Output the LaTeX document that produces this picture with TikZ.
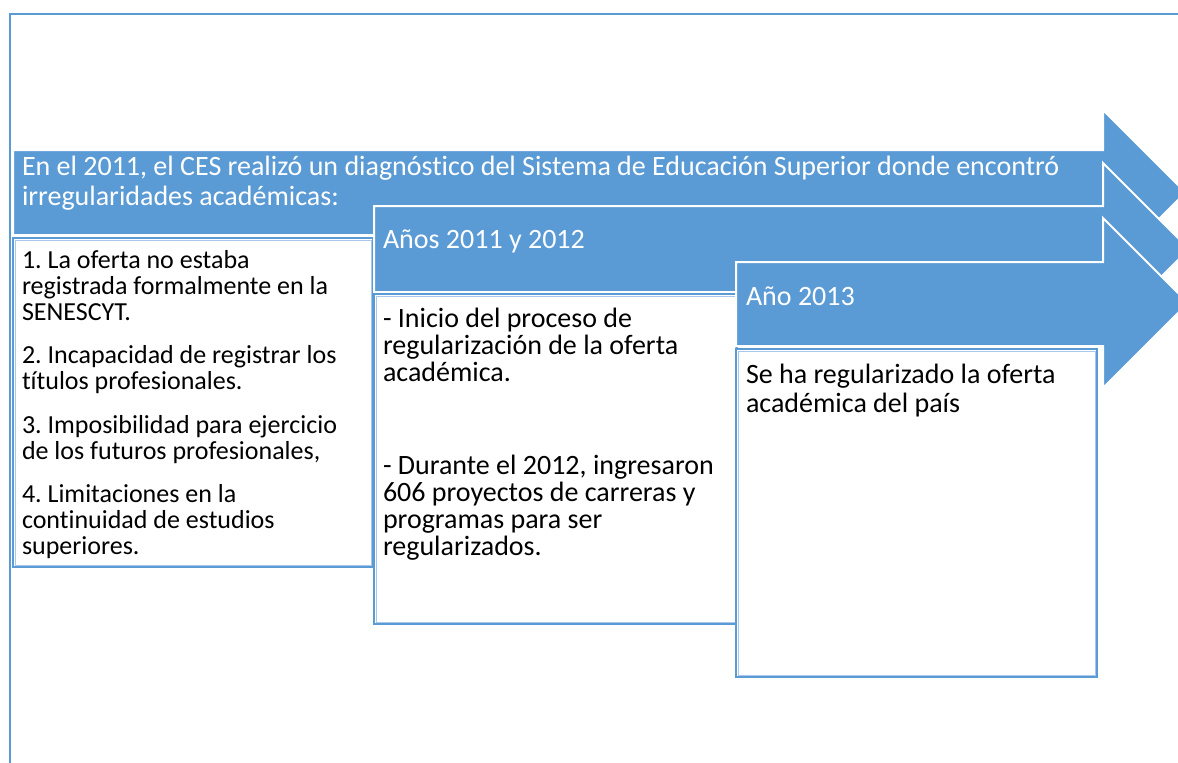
\documentclass[tikz,border=0pt]{standalone}
\usepackage{fontspec}
\setmainfont{Carlito}[Ligatures=NoCommon]
\frenchspacing
\definecolor{abl}{HTML}{5B9BD5}
\definecolor{abllight}{HTML}{A9C8EA}
\newcommand{\mytxt}[5]{\parbox[t]{#1}{\fontsize{#2}{#3}\selectfont\setlength{\parskip}{#4}\raggedright\frenchspacing #5}}
\begin{document}
\begin{tikzpicture}[x=1pt,y=-1pt,
  arrowshape/.style={fill=abl, draw=white, line width=2pt, line join=miter},
  whitebox/.style={fill=white, draw=abl, line width=2.6pt},
  innerline/.style={draw=abllight, line width=0.8pt},
  frameline/.style={draw=abl, line width=1.4pt},
  arrowtext/.style={anchor=base west, inner sep=0pt, outer sep=0pt, text=white},
  boxtext/.style={anchor=base west, inner sep=0pt, outer sep=0pt, text=black}]
\useasboundingbox (0,0) rectangle (1178,763);
\clip (0,0) rectangle (1178,763);
\fill[white] (0,0) rectangle (1178,763);
% outer frame
\draw[frameline] (10,14) rectangle (1210,800);
% arrow 1 and its box
\draw[arrowshape] (13,150) -- (1103,150) -- (1103,110) -- (1185.5,192.5) -- (1103,275) -- (1103,235) -- (13,235) -- cycle;
\node[arrowtext] (a1) at (22,175) {\mytxt{1150pt}{28}{30}{0pt}{En el 2011, el CES realizó un diagnóstico del Sistema de Educación Superior donde encontró\\irregularidades académicas:}};
\draw[whitebox] (13,238) rectangle (373,567);
\draw[innerline] (15,240) rectangle (371,565);
\node[boxtext] (b1) at (22,268) {\mytxt{400pt}{26}{26}{17.5pt}{1. La oferta no estaba\\registrada formalmente en la\\SENESCYT.\par
2. Incapacidad de registrar los\\títulos profesionales.\par
3. Imposibilidad para ejercicio\\de los futuros profesionales,\par
4. Limitaciones en la\\continuidad de estudios\\superiores.}};
% arrow 2 and its box
\draw[arrowshape] (374,206) -- (1103,206) -- (1103,163) -- (1189,249) -- (1103,335) -- (1103,292) -- (374,292) -- cycle;
\node[arrowtext] (a2) at (383,248) {\mytxt{600pt}{28}{30}{0pt}{Años 2011 y 2012}};
\draw[whitebox] (374,294) rectangle (737,624);
\draw[innerline] (376,296) rectangle (735,622);
\node[boxtext] (b2) at (383,327) {\mytxt{400pt}{28}{27}{19.5pt}{- Inicio del proceso de\\regularización de la oferta\\académica.\par\mbox{}\par
- Durante el 2012, ingresaron\\606 proyectos de carreras y\\programas para ser\\regularizados.}};
% arrow 3 and its box
\draw[arrowshape] (736,262) -- (1103,262) -- (1103,218) -- (1188,303) -- (1103,388) -- (1103,346) -- (736,346) -- cycle;
\node[arrowtext] (a3) at (746,305) {\mytxt{400pt}{28}{30}{0pt}{Año 2013}};
\draw[whitebox] (736,349) rectangle (1097,677);
\draw[innerline] (738,351) rectangle (1095,675);
\node[boxtext] (b3) at (746,383) {\mytxt{400pt}{28}{29.5}{0pt}{Se ha regularizado la oferta\\académica del país}};
\end{tikzpicture}
\end{document}
